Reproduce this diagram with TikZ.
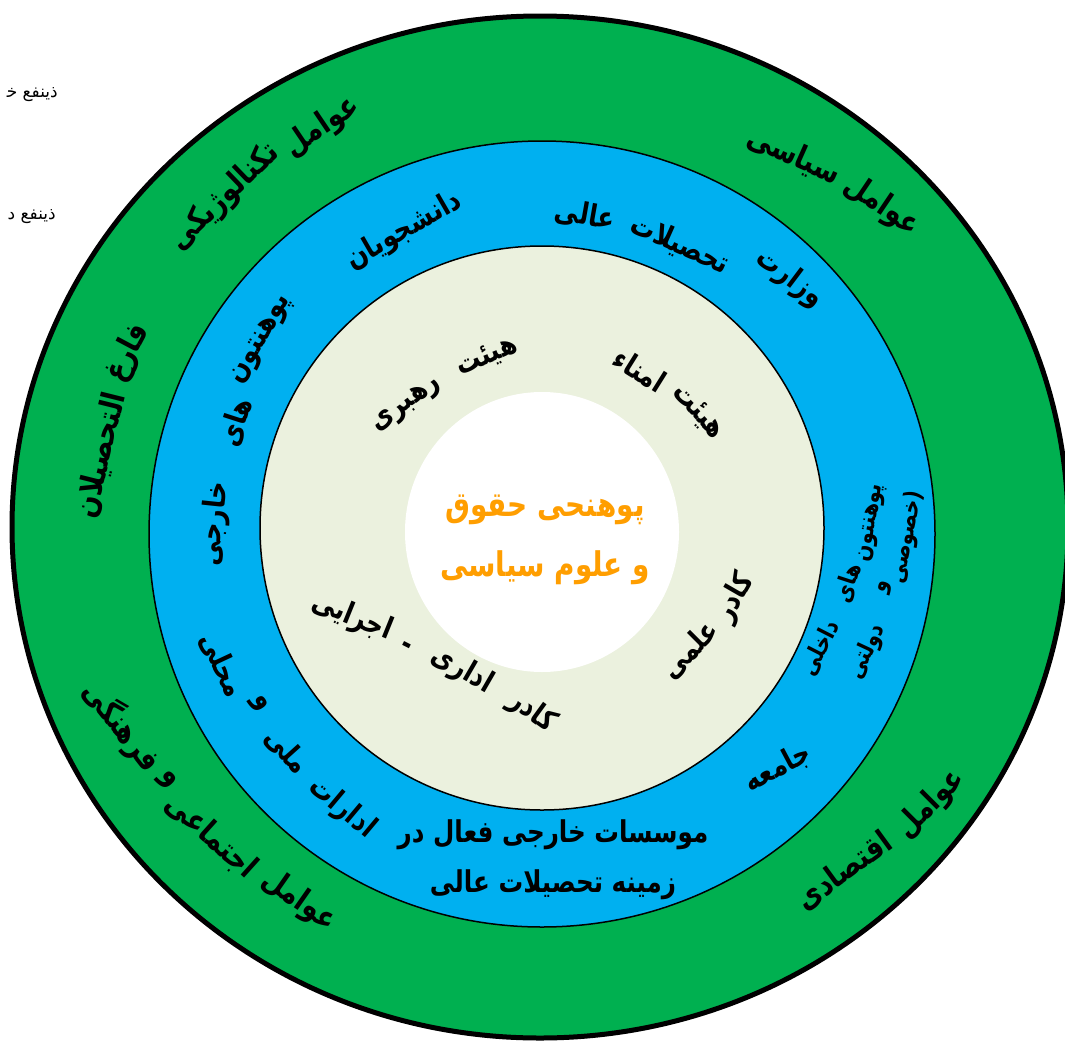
\documentclass[tikz,border=0pt]{standalone}
\usepackage{fontspec}
\newfontfamily\fa[Script=Arabic, FakeStretch=0.82]{DejaVu Sans}
\newfontfamily\faplain[Script=Arabic]{DejaVu Sans}
\TeXXeTstate=1
\definecolor{ringgreen}{RGB}{0,176,80}
\definecolor{ringblue}{RGB}{0,176,240}
\definecolor{ringpale}{RGB}{235,241,222}
\definecolor{centreorange}{RGB}{255,158,0}
\begin{document}
\begin{tikzpicture}[x=1pt,y=-1pt,
  outerlab/.style={font=\fa\bfseries\fontsize{32}{36}\selectfont, inner sep=0pt},
  bluelab/.style={font=\fa\bfseries\fontsize{30}{34}\selectfont, inner sep=0pt},
  smalllab/.style={font=\fa\bfseries\fontsize{24}{28}\selectfont, inner sep=0pt},
  innerlab/.style={font=\fa\bfseries\fontsize{30}{34}\selectfont, inner sep=0pt},
  centrelab/.style={font=\fa\bfseries\fontsize{34}{38}\selectfont, text=centreorange, inner sep=0pt},
  leftlab/.style={font=\faplain\fontsize{17}{20}\selectfont, inner sep=0pt},
  ringline/.style={draw=black, line width=1.5pt}
]
\useasboundingbox (0,0) rectangle (1065,1044);
% rings
\fill[ringgreen, draw=black, line width=5pt] (540,527) ellipse [x radius=528pt, y radius=511pt];
\fill[ringblue, ringline] (542,534) circle [radius=393pt];
\fill[ringpale, ringline] (542,528) circle [radius=282pt];
\fill[white] (542,532) ellipse [x radius=137pt, y radius=140pt];

% outer (green) ring labels
\node[outerlab, rotate=34] (tech1) at (322,127) {\beginR عوامل\endR};
\node[outerlab, rotate=44] (tech2) at (225,197) {\beginR تکنالوژیکی\endR};
\node[outerlab, rotate=-24] (pol2) at (794,156) {\beginR سیاسی\endR};
\node[outerlab, rotate=-34] (pol1) at (882,206) {\beginR عوامل\endR};
\node[outerlab, rotate=62] (grad1) at (128,353) {\beginR فارغ\endR};
\node[outerlab, rotate=76] (grad2) at (101,455) {\beginR التحصیلان\endR};
\node[outerlab, rotate=-52] (soc4) at (122,726) {\beginR فرهنگی\endR};
\node[outerlab, rotate=-47] (soc3) at (167,781) {\beginR و\endR};
\node[outerlab, rotate=-42] (soc2) at (211,836) {\beginR اجتماعی\endR};
\node[outerlab, rotate=-35] (soc1) at (299,901) {\beginR عوامل\endR};
\node[outerlab, rotate=45] (eco1) at (931,804) {\beginR عوامل\endR};
\node[outerlab, rotate=36] (eco2) at (844,871) {\beginR اقتصادی\endR};

% blue ring labels
\node[bluelab, rotate=30] (stud) at (404,231) {\beginR دانشجویان\endR};
\node[bluelab, rotate=-10] (min3) at (585,215) {\beginR عالی\endR};
\node[bluelab, rotate=-24] (min2) at (680,245) {\beginR تحصیلات\endR};
\node[bluelab, rotate=-37] (min1) at (790,278) {\beginR وزارت\endR};
\node[bluelab, rotate=60] (fu1) at (262,340) {\beginR پوهنتون\endR};
\node[bluelab, rotate=72] (fu2) at (236,422) {\beginR های\endR};
\node[bluelab, rotate=84] (fu3) at (215,524) {\beginR خارجی\endR};
\node[bluelab, rotate=-65] (adm4) at (222,665) {\beginR محلی\endR};
\node[bluelab, rotate=-57] (adm3) at (259,704) {\beginR و\endR};
\node[bluelab, rotate=-48] (adm2) at (287,751) {\beginR ملی\endR};
\node[bluelab, rotate=-40] (adm1) at (342,808) {\beginR ادارات\endR};
\node[bluelab] (forg1) at (553,835) {\beginR موسسات خارجی فعال در\endR};
\node[bluelab] (forg2) at (553,885) {\beginR زمینه تحصیلات عالی\endR};
\node[bluelab, rotate=28] (comm) at (778,768) {\beginR جامعه\endR};
\node[smalllab, rotate=80] (du1) at (872,523) {\beginR پوهنتون\endR};
\node[smalllab, rotate=72] (du2) at (848,583) {\beginR های\endR};
\node[smalllab, rotate=63] (du3) at (820,648) {\beginR داخلی\endR};
\node[smalllab, rotate=78] (du4) at (907,537) {\beginR (خصوصی\endR};
\node[smalllab, rotate=72] (du5) at (885,587) {\beginR و\endR};
\node[smalllab, rotate=65] (du6) at (867,652) {\beginR دولتی\endR};

% pale ring labels
\node[innerlab, rotate=22] (lead1) at (487,357) {\beginR هیئت\endR};
\node[innerlab, rotate=36] (lead2) at (407,405) {\beginR رهبری\endR};
\node[innerlab, rotate=-32] (tru2) at (640,370) {\beginR امناء\endR};
\node[innerlab, rotate=-47] (tru1) at (698,412) {\beginR هیئت\endR};
\node[innerlab, rotate=60] (ac1) at (735,598) {\beginR کادر\endR};
\node[innerlab, rotate=45] (ac2) at (690,650) {\beginR علمی\endR};
\node[innerlab, rotate=-22] (ad4) at (352,617) {\beginR اجرایی\endR};
\node[innerlab, rotate=-27] (ad3) at (405,648) {-};
\node[innerlab, rotate=-30] (ad2) at (462,670) {\beginR اداری\endR};
\node[innerlab, rotate=-36] (ad1) at (532,712) {\beginR کادر\endR};

% centre
\node[centrelab] (c1) at (545,510) {\beginR پوهنحی حقوق\endR};
\node[centrelab] (c2) at (545,568) {\beginR و علوم سیاسی\endR};

% left margin texts (cut by the picture edge)
\node[leftlab, anchor=east] (ext) at (58,95) {\beginR ذینفع خ^^^^200d\endR};
\node[leftlab, anchor=east] (int) at (56,217) {\beginR ذینفع د\endR};
\end{tikzpicture}
\end{document}
